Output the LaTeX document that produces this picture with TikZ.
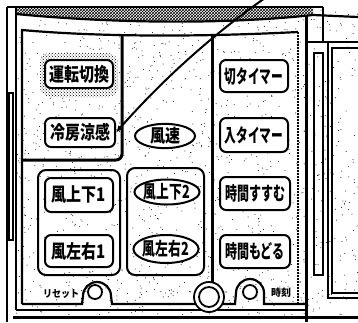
\documentclass[tikz,border=0pt]{standalone}
\usepackage{graphicx}
\usepackage{fontspec}
\newfontfamily\jp{Noto Sans CJK JP}
\usetikzlibrary{patterns,arrows.meta,shapes.geometric}
\begin{document}
\begin{tikzpicture}[x=1pt,y=-1pt,
  panel/.style={line width=2.2pt},
  heavy/.style={line width=3pt},
  thinl/.style={line width=1.3pt},
  btn/.style={draw,line width=2pt,rounded corners=6pt,fill=white,font=\jp\bfseries\fontsize{15}{15}\selectfont,inner sep=0pt},
  oval/.style={draw,ellipse,line width=2pt,fill=white,font=\jp\bfseries\fontsize{15}{15}\selectfont,inner sep=0pt},
  grp/.style={draw,line width=2pt,rounded corners=8pt},
  small/.style={font=\jp\bfseries\fontsize{10}{10}\selectfont,inner sep=0pt},
  knob/.style={draw,circle,line width=1.8pt,fill=white,inner sep=0pt},
]
\useasboundingbox (0,0) rectangle (358,322);
% stipple texture
\pgfmathsetseed{7}
\foreach \i in {1,...,1400} {\fill ({16+rnd*342},{9+rnd*306}) circle[radius=0.5];}
% top hatched band
\fill[white] (16,7) -- (313,7) -- (313,15) .. controls (230,24) and (120,24) .. (16,14) -- cycle;
\fill[pattern=crosshatch] (16,7) -- (313,7) -- (313,15) .. controls (230,24) and (120,24) .. (16,14) -- cycle;
\draw[thinl] (7,7) -- (323,7);
\draw[panel] (16,14) .. controls (120,24) and (230,24) .. (313,15) -- (358,17);
% outer left frame
\draw[thinl] (7,7) -- (7,322);
\draw[thinl] (16,7) -- (16,310);
\draw[thinl] (9,93) rectangle (13,240);
% inner panel
\draw[panel] (22,304) -- (22,30) .. controls (100,37) and (200,37) .. (298,32);
\draw[line width=1.6pt,dash pattern=on 2pt off 1pt] (298,32) -- (298,304);
\draw[heavy,rounded corners=6pt] (122,35) -- (122,160) -- (22,160);
\draw[heavy] (212,35) -- (212,283);
% panel bottom with bumps
\draw[panel] (22,304) -- (82,304) -- (83,296) .. controls (83,288.3) and (89.3,282) .. (97,282) .. controls (104.7,282) and (111,288.3) .. (111,296) -- (112,304)
  -- (235,304) -- (236,293) .. controls (236,285.3) and (242.3,279) .. (250,279) .. controls (257.7,279) and (264,285.3) .. (264,293) -- (264,304) -- (306,304);
\draw[thinl] (16,310) -- (306,310);
\draw[heavy] (13,317) -- (358,317);
% right side
\draw[heavy] (306,15) -- (306,322);
\draw[thinl] (306,42) -- (358,42);
\draw[thinl] (323,7) -- (323,42);
\draw[line width=1.6pt] (314,53) rectangle (323,275);
\draw[thinl] (328,42) -- (328,298) -- (358,298);
\draw[thinl] (358,48) -- (332,48) -- (332,293) -- (358,293);
% groups
\draw[grp] (38,170) rectangle (120,275);
\draw[grp] (127,168) rectangle (204,275);
% halo
\fill[white,rounded corners=10pt] (40,53) rectangle (118,97);
\fill[pattern=crosshatch dots,rounded corners=10pt] (40,53) rectangle (118,97);
% buttons
\node[btn,minimum width=68pt,minimum height=28pt] (unten) at (79,74) {\scalebox{1}[1.25]{運転切換}};
\node[btn,minimum width=70pt,minimum height=29pt] (reibo) at (80,132.5) {\scalebox{1}[1.25]{冷房涼感}};
\node[oval,minimum width=60pt,minimum height=24pt] (fusoku) at (165,136) {\scalebox{1}[1.2]{風速}};
\node[btn,minimum width=68pt,minimum height=32pt] (kiri) at (254,76) {\scalebox{0.78}[1.25]{切タイマー}};
\node[btn,minimum width=68pt,minimum height=34pt] (iri) at (254,135) {\scalebox{0.78}[1.25]{入タイマー}};
\node[btn,minimum width=68pt,minimum height=34pt] (ud1) at (79,195) {\scalebox{1}[1.25]{風上下1}};
\node[btn,minimum width=68pt,minimum height=32pt] (lr1) at (79,251) {\scalebox{1}[1.25]{風左右1}};
\node[oval,minimum width=60pt,minimum height=25pt] (ud2) at (167,192) {\scalebox{0.85}[1.2]{風上下2}};
\node[oval,minimum width=62pt,minimum height=28pt] (lr2) at (166,249) {\scalebox{0.85}[1.2]{風左右2}};
\node[btn,minimum width=70pt,minimum height=33pt] (susumu) at (255,193.5) {\scalebox{0.8}[1.25]{時間すすむ}};
\node[btn,minimum width=70pt,minimum height=33pt] (modoru) at (255,251.5) {\scalebox{0.8}[1.25]{時間もどる}};
% knobs
\node[knob,minimum size=14pt] (reset) at (95,292) {};
\node[knob,minimum size=30pt] (bigring) at (209,297) {};
\node[draw,circle,line width=1.8pt,minimum size=20pt,inner sep=0pt] (bigin) at (209,297) {};
\node[knob,minimum size=14pt] (clock) at (250,292) {};
\node[small,fill=white] (resettxt) at (61,294) {\scalebox{0.9}[1]{リセット}};
\node[small,fill=white] (clocktxt) at (281,293) {時刻};
% arrow
\coordinate (astart) at (265,-2);
\draw[line width=2pt,-{Latex[length=7pt,width=6pt]}] (astart) .. controls (215,33) and (165,77) .. (reibo.east);
\end{tikzpicture}
\end{document}
